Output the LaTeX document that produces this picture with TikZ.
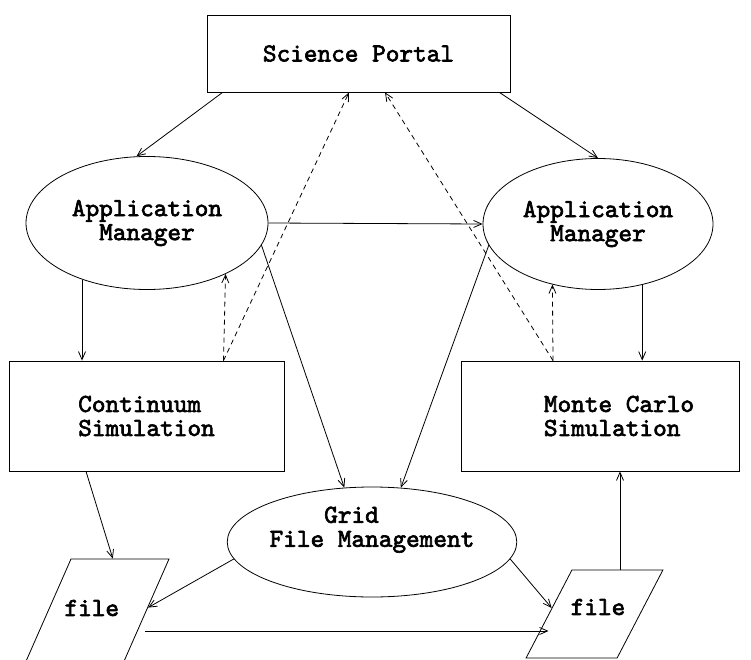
\documentclass[tikz,border=0pt]{standalone}
\usepackage{fontspec}
\newfontfamily\figfont{lmmono10-regular.otf}[FakeBold=2.5]
\usetikzlibrary{positioning,shapes.geometric,arrows.meta}
\begin{document}
\begin{tikzpicture}[x=1pt,y=-1pt,line width=0.8pt,
	every node/.style={font=\figfont\fontsize{26}{24}\selectfont, inner sep=0pt},
	box/.style={draw, rectangle},
	oval/.style={draw, ellipse},
	file/.style 2 args={draw, trapezium, trapezium left angle=#1, trapezium right angle=#2},
	line/.style={-{Straight Barb[length=8pt,width=7pt]}},
	dline/.style={line, dash pattern=on 5pt off 4pt}]
	\clip (0,0) rectangle (751,660);
	%% nodes
	\node[box, minimum width=303pt, minimum height=77pt] (portal) at (358.5,53.5) {Science Portal};
	\node[oval, minimum width=242pt, minimum height=133pt, align=center] (lam) at (147,223) {Application\\Manager};
	\node[oval, minimum width=230pt, minimum height=131pt, align=center] (ram) at (598,224) {Application\\Manager};
	\node[box, minimum width=275pt, minimum height=110pt, align=left] (cont) at (146.5,416) {Continuum\\Simulation};
	\node[box, minimum width=278pt, minimum height=110pt, align=left] (mc) at (600,416) {\hspace*{38pt}Monte Carlo\\\hspace*{38pt}Simulation};
	\node[oval, minimum width=264pt, minimum height=110pt] (grid) at (372,542)
		{\raisebox{12pt}[\height][\depth]{\begin{tabular}{@{}l@{}}\phantom{File}Grid\\File Management\end{tabular}}};
	\node[file={66.25}{113.75}, inner xsep=24.8pt, inner ysep=55pt] (lfile) at (95.8,614) {};
	\node[file={62.5}{117.5}, inner xsep=22.6pt, inner ysep=44pt] (rfile) at (594.5,614) {};
	\node (lname) at ([xshift=-4pt,yshift=6pt]lfile.center) {file};
	\node (rname) at ([xshift=3.5pt,yshift=7pt]rfile.center) {file};
	%% free ends
	\coordinate (cd) at ([xshift=77pt]cont.north);
	\coordinate (md) at ([xshift=-47pt]mc.north);
	\coordinate (rt) at ([xshift=25.5pt]rfile.north);
	%% connectors
	\draw[line] ([xshift=16pt]portal.south west) -- (lam.99);
	\draw[line] ([xshift=-11pt]portal.south east) -- (ram.north);
	\draw[line] (lam.east) -- (ram.west);
	\draw[line] (lam.221) -- (lam.221 |- cont.north);
	\draw[line] (ram.-54) -- (ram.-54 |- mc.north);
	\draw[line] (lam.-11) -- (grid.117);
	\draw[line] (ram.191) -- (grid.62);
	% dashed replies
	\draw[dline] (cd) -- (lam.-33);
	\draw[dline] (cd) -- ([xshift=-9.5pt]portal.south);
	\draw[dline] (md) -- (ram.233);
	\draw[dline] (md) -- ([xshift=26.5pt]portal.south);
	% files
	\draw[line] ([xshift=-60.5pt]cont.south) -- ([xshift=17pt]lfile.north);
	\draw[line] (grid.187) -- (lfile.7);
	\draw[line] (grid.-7) -- (rfile.172);
	\draw[line] ([yshift=-17pt]lfile.east) -- ([yshift=-17pt]rfile.west);
	\draw[line] (rt) -- (rt |- mc.south);
\end{tikzpicture}
\end{document}
